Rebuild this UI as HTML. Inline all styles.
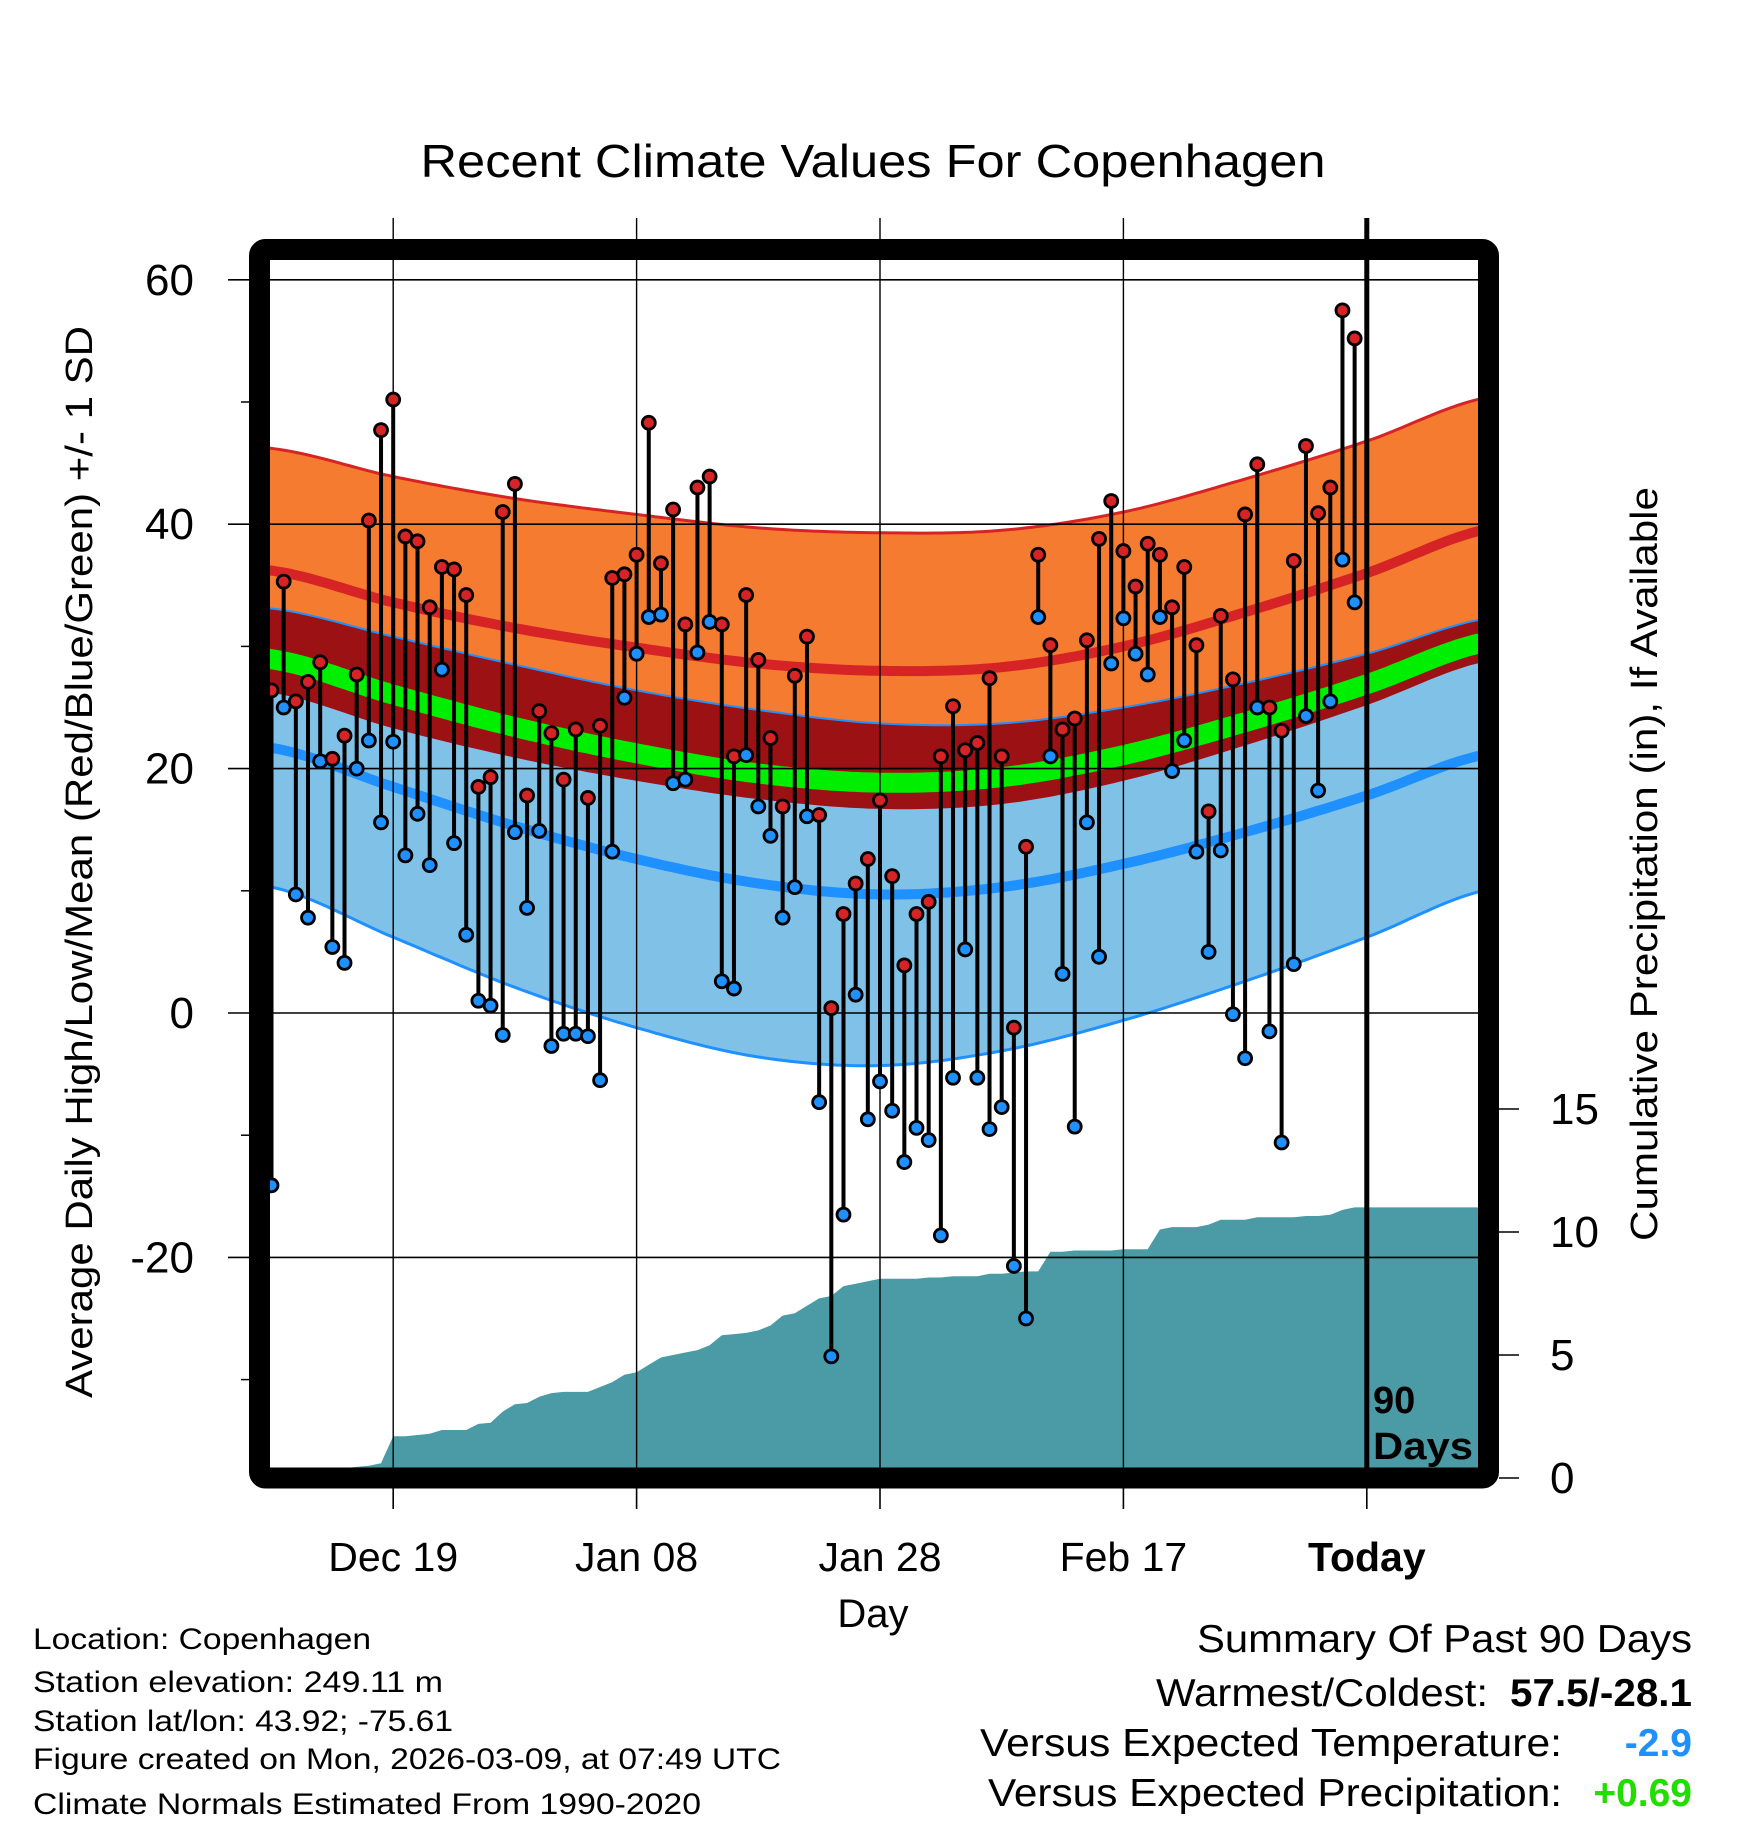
<!DOCTYPE html>
<html><head><meta charset="utf-8"><style>
html,body{margin:0;padding:0;background:#fff;}
svg{display:block;font-family:"Liberation Sans",Arial,sans-serif;}
</style></head><body>
<svg id="chart" width="1748" height="1828" viewBox="0 0 1748 1828" xmlns="http://www.w3.org/2000/svg">
<defs><clipPath id="plotclip"><rect x="270" y="260" width="1208" height="1208"/></clipPath></defs>
<text x="873" y="177" font-size="46" text-anchor="middle" textLength="905" lengthAdjust="spacingAndGlyphs">Recent Climate Values For Copenhagen</text>
<g id="bands" clip-path="url(#plotclip)"></g>
<g id="grid"></g>
<g id="marks" clip-path="url(#plotclip)"></g>
<g id="axes"></g>
<text transform="translate(92,862) rotate(-90)" font-size="38" text-anchor="middle" textLength="1072" lengthAdjust="spacingAndGlyphs">Average Daily High/Low/Mean (Red/Blue/Green) +/- 1 SD</text>
<text transform="translate(1657,864) rotate(-90)" font-size="38" text-anchor="middle" textLength="754" lengthAdjust="spacingAndGlyphs">Cumulative Precipitation (in), If Available</text>
<text x="873" y="1627" font-size="40" text-anchor="middle">Day</text>
<text font-size="38" font-weight="bold"><tspan x="1373" y="1413">90</tspan><tspan x="1373" y="1459" textLength="100" lengthAdjust="spacingAndGlyphs">Days</tspan></text>
<g font-size="30">
<text x="33" y="1649" textLength="338" lengthAdjust="spacingAndGlyphs">Location: Copenhagen</text>
<text x="33" y="1692" textLength="410" lengthAdjust="spacingAndGlyphs">Station elevation: 249.11 m</text>
<text x="33" y="1731" textLength="420" lengthAdjust="spacingAndGlyphs">Station lat/lon: 43.92; -75.61</text>
<text x="33" y="1769" textLength="748" lengthAdjust="spacingAndGlyphs">Figure created on Mon, 2026-03-09, at 07:49 UTC</text>
<text x="33" y="1814" textLength="668" lengthAdjust="spacingAndGlyphs">Climate Normals Estimated From 1990-2020</text>
</g>
<g font-size="39">
<text x="1692" y="1652" text-anchor="end" textLength="495" lengthAdjust="spacingAndGlyphs">Summary Of Past 90 Days</text>
<text x="1156" y="1706" textLength="332" lengthAdjust="spacingAndGlyphs">Warmest/Coldest:</text>
<text x="1692" y="1706" text-anchor="end" font-weight="bold" textLength="182" lengthAdjust="spacingAndGlyphs">57.5/-28.1</text>
<text x="980" y="1756" textLength="582" lengthAdjust="spacingAndGlyphs">Versus Expected Temperature:</text>
<text x="1692" y="1756" text-anchor="end" font-weight="bold" fill="#1e90ff">-2.9</text>
<text x="988" y="1806" textLength="574" lengthAdjust="spacingAndGlyphs">Versus Expected Precipitation:</text>
<text x="1692" y="1806" text-anchor="end" font-weight="bold" fill="#22dd00">+0.69</text>
</g>
</svg>
<script>
const highs=[26.4,35.3,25.5,27.1,28.7,20.8,22.7,27.7,40.3,47.7,50.2,39,38.6,33.2,36.5,36.3,34.2,18.5,19.3,41,43.3,17.8,24.7,22.9,19.1,23.2,17.6,23.5,35.6,35.9,37.5,48.3,36.8,41.2,31.8,43,43.9,31.8,21,34.2,28.9,22.5,16.9,27.6,30.8,16.2,0.4,8.1,10.6,12.6,17.4,11.2,3.9,8.1,9.1,21,25.1,21.5,22.1,27.4,21,-1.2,13.6,37.5,30.1,23.2,24.1,30.5,38.8,41.9,37.8,34.9,38.4,37.5,33.2,36.5,30.1,16.5,32.5,27.3,40.8,44.9,25,23.1,37,46.4,40.9,43,57.5,55.2];
const lows=[-14.1,25,9.7,7.8,20.6,5.4,4.1,20,22.3,15.6,22.2,12.9,16.3,12.1,28.1,13.9,6.4,1.0,0.6,-1.8,14.8,8.6,14.9,-2.7,-1.7,-1.7,-1.9,-5.5,13.2,25.8,29.4,32.4,32.6,18.8,19.1,29.5,32,2.6,2.0,21.1,16.9,14.5,7.8,10.3,16.1,-7.3,-28.1,-16.5,1.5,-8.7,-5.6,-8.0,-12.2,-9.4,-10.4,-18.2,-5.3,5.2,-5.3,-9.5,-7.7,-20.7,-25.0,32.4,21,3.2,-9.3,15.6,4.6,28.6,32.3,29.4,27.7,32.4,19.8,22.3,13.2,5.0,13.3,-0.1,-3.7,25,-1.5,-10.6,4.0,24.3,18.2,25.5,37.1,33.6];
const precip=[0,0,0,0.05,0.1,0.3,0.4,0.45,0.5,0.6,1.7,1.7,1.75,1.8,1.95,1.95,1.95,2.2,2.25,2.7,3.0,3.05,3.3,3.45,3.5,3.5,3.5,3.7,3.9,4.2,4.3,4.6,4.9,5.0,5.1,5.2,5.4,5.8,5.85,5.9,6.0,6.2,6.6,6.7,7.0,7.3,7.4,7.8,7.9,8.0,8.1,8.1,8.1,8.1,8.15,8.15,8.2,8.2,8.2,8.3,8.3,8.35,8.4,8.4,9.2,9.2,9.25,9.25,9.25,9.25,9.3,9.3,9.3,10.1,10.2,10.2,10.2,10.3,10.5,10.5,10.5,10.6,10.6,10.6,10.6,10.65,10.65,10.7,10.9,11.0];
const normDays=[0,10,20,30,40,50,60,70,80,90,100];
const hiMean=[36.2,33.6,31.5,29.9,28.6,28.0,28.3,30.0,32.8,36.0,39.6];
const hiSD=[10.0,10.3,10.6,10.9,11.1,11.3,11.2,11.0,10.9,10.8,10.8];
const loMean=[21.7,18.5,15.3,12.6,10.6,9.7,10.3,12.2,14.8,17.8,21.2];
const loSD=[11.4,12.3,13.2,13.8,14.2,14.0,13.4,12.8,12.2,11.6,11.1];
const yTicks=[60,40,20,0,-20];
const yMinor=[50,30,10,-10,-30];
const pTicks=[0,5,10,15];
const xTickDays=[10,30,50,70,90];
const xTickLabels=["Dec 19","Jan 08","Jan 28","Feb 17","Today"];

const NS="http://www.w3.org/2000/svg";
const xD=d=>271.5+12.17*d;
const yT=v=>1013-12.22*v;
const yP=p=>1478-24.6*p;
function mk(tag,attrs,parent){const e=document.createElementNS(NS,tag);for(const k in attrs)e.setAttribute(k,attrs[k]);parent.appendChild(e);return e;}
function interp(arr,d){const t=d/10;let i=Math.floor(t);if(i>=arr.length-1)i=arr.length-2;if(i<0)i=0;const f=t-i;
 const p0=arr[Math.max(i-1,0)],p1=arr[i],p2=arr[i+1],p3=arr[Math.min(i+2,arr.length-1)];
 return 0.5*((2*p1)+(-p0+p2)*f+(2*p0-5*p1+4*p2-p3)*f*f+(-p0+3*p1-3*p2+p3)*f*f*f);}
const ds=[];for(let d=-1;d<=100;d+=0.5)ds.push(d);
const curve=fn=>ds.map(d=>[xD(d),yT(fn(d))]);
const hiU=curve(d=>interp(hiMean,d)+interp(hiSD,d));
const hiL=curve(d=>interp(hiMean,d)-interp(hiSD,d));
const loU=curve(d=>interp(loMean,d)+interp(loSD,d));
const loL=curve(d=>interp(loMean,d)-interp(loSD,d));
const hiM=curve(d=>interp(hiMean,d));
const loM=curve(d=>interp(loMean,d));
const avM=curve(d=>(interp(hiMean,d)+interp(loMean,d))/2);
const pts=a=>a.map(p=>p[0].toFixed(1)+","+p[1].toFixed(1)).join(" ");
const band=(u,l)=>pts(u)+" "+pts(l.slice().reverse());
const bands=document.getElementById('bands');
let e;
e=mk('polygon',{points:band(hiU,hiL),fill:'#f47b30'},bands);

e=mk('polygon',{points:band(loU,loL),fill:'#80c1e8'},bands);

e=mk('polygon',{points:band(loU,hiL),fill:'#9b1114'},bands);

e=mk('polyline',{points:pts(avM),fill:'none',stroke:'#00ee00','stroke-width':20},bands);

e=mk('polyline',{points:pts(hiM),fill:'none',stroke:'#d62426','stroke-width':10},bands);

e=mk('polyline',{points:pts(loM),fill:'none',stroke:'#1e90ff','stroke-width':10},bands);

e=mk('polyline',{points:pts(hiU),fill:'none',stroke:'#d62426','stroke-width':3},bands);

e=mk('polyline',{points:pts(loU),fill:'none',stroke:'#1e90ff','stroke-width':2},bands);

e=mk('polyline',{points:pts(loL),fill:'none',stroke:'#1e90ff','stroke-width':3},bands);

let pp=[[xD(0),yP(0)]];
precip.forEach((p,i)=>pp.push([xD(i),yP(p)]));
pp.push([1480,yP(precip[precip.length-1])]);pp.push([1480,1470]);pp.push([xD(0)-2,1470]);
e=mk('polygon',{points:pts(pp),fill:'#4a9ba5'},bands);


const grid=document.getElementById('grid');
yTicks.forEach(v=>{
 e=mk('line',{x1:228,x2:1478,y1:yT(v),y2:yT(v),stroke:'#000','stroke-width':1.6},grid);
 
 e=mk('text',{x:194,y:yT(v)+15,'font-size':44,'text-anchor':'end'},grid);e.textContent=v;
 
});
yMinor.forEach(v=>{
 e=mk('line',{x1:241,x2:252,y1:yT(v),y2:yT(v),stroke:'#000','stroke-width':1.5},grid);
 
});
xTickDays.forEach((d,i)=>{
 if(i<4){e=mk('line',{x1:xD(d),x2:xD(d),y1:218,y2:1468,stroke:'#000','stroke-width':1.4},grid);
 }
 e=mk('line',{x1:xD(d),x2:xD(d),y1:1488,y2:1509,stroke:'#000','stroke-width':1.6},grid);
 
 e=mk('text',{x:xD(d),y:1571,'font-size':41,'text-anchor':'middle','font-weight':i==4?'bold':'normal'},grid);e.textContent=xTickLabels[i];
 
});
pTicks.forEach(p=>{
 e=mk('line',{x1:1499,x2:1519,y1:yP(p),y2:yP(p),stroke:'#000','stroke-width':1.6},grid);
 
 e=mk('text',{x:1550,y:yP(p)+15,'font-size':44},grid);e.textContent=p;
 
});

const marks=document.getElementById('marks');
highs.forEach((h,i)=>{
 const x=xD(i),l=lows[i];
 e=mk('line',{x1:x,x2:x,y1:yT(h),y2:yT(l),stroke:'#000','stroke-width':4},marks);
 
 e=mk('circle',{cx:x,cy:yT(l),r:6.5,fill:'#1e90ff',stroke:'#000','stroke-width':2.8},marks);
 
 e=mk('circle',{cx:x,cy:yT(h),r:6.5,fill:'#d62426',stroke:'#000','stroke-width':2.8},marks);
 
});

const axes=document.getElementById('axes');
e=mk('line',{x1:xD(90),x2:xD(90),y1:218,y2:1478,stroke:'#000','stroke-width':5},axes);

e=mk('rect',{x:259.5,y:249.5,width:1229,height:1228.5,fill:'none',stroke:'#000','stroke-width':21,rx:6},axes);

</script>
</body></html>
